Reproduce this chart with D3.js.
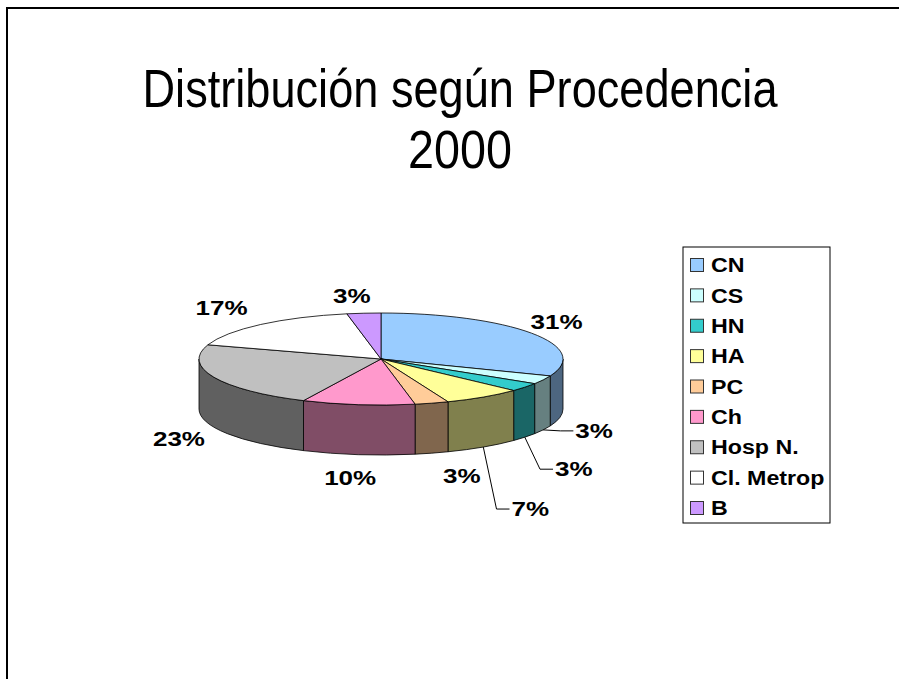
<!DOCTYPE html>
<html>
<head>
<meta charset="utf-8">
<script src="https://cdn.jsdelivr.net/npm/d3@7"></script>
<style>
  html, body { margin: 0; padding: 0; background: #fff; }
  svg { display: block; }
</style>
</head>
<body>
<div id="chart"></div>
<script>
// data
const categories = ["CN", "CS", "HN", "HA", "PC", "Ch", "Hosp N.", "Cl. Metrop", "B"];
const values = [31, 3, 3, 7, 3, 10, 23, 17, 3];
const colors = ["#99CCFF", "#CCFFFF", "#33CCCC", "#FFFF99", "#FFCC99", "#FF99CC", "#C0C0C0", "#FFFFFF", "#CC99FF"];
const titleLines = ["Distribución según Procedencia", "2000"];

// label nudges (px from the slice edge), and which labels get leader lines
const labelNudge = [[25, -11], [51, 1], [49, 32], [47, 62], [30, 23], [-8, 23], [-35, 12], [-39, -17], [-12, -17]];
const leaderFor = ["CS", "HN", "HA"];

const W = 899, H = 679;
const cx = 381, cy = 359;   // centre of top face
const rx = 182, ry = 46;    // ellipse radii
const depth = 50;           // thickness of the pie

const svg = d3.select("#chart").append("svg")
  .attr("width", W)
  .attr("height", H);

// frame (left and top only show in the picture)
svg.append("path")
  .attr("d", `M7,${H} L7,8 L${W + 2},8`)
  .attr("fill", "none")
  .attr("stroke", "#000")
  .attr("stroke-width", 2);

// title
titleLines.forEach((t, i) => {
  svg.append("text")
    .attr("x", 460)
    .attr("y", 107 + i * 61)
    .attr("text-anchor", "middle")
    .attr("font-family", "Liberation Sans, Arial, sans-serif")
    .attr("font-size", 53)
    .attr("textLength", i === 0 ? 635 : 104)
    .attr("lengthAdjust", "spacingAndGlyphs")
    .attr("fill", "#000")
    .text(t);
});

// excel draws the small bold text wider than arial, stretch it a bit
function stretch(sel, k) {
  const w = sel.node().getComputedTextLength();
  sel.attr("textLength", w * k).attr("lengthAdjust", "spacingAndGlyphs");
  return w * k;
}

const data = categories.map((c, i) => ({ name: c, value: values[i], color: colors[i] }));
const total = d3.sum(values);
const pct = d3.format(".0%");

const pie = d3.pie().sort(null).value(d => d.value);
const arcs = pie(data);

// point on the ellipse for angle a (0 = top, clockwise)
function pt(a, dy = 0) {
  return [cx + rx * Math.sin(a), cy - ry * Math.cos(a) + dy];
}

function darker(c) {
  const r = d3.rgb(c);
  return d3.rgb(r.r * 0.5, r.g * 0.5, r.b * 0.5).formatHex();
}

// side walls (only the front half, angles between PI/2 and 3PI/2)
const g = svg.append("g");
arcs.forEach(d => {
  const a0 = Math.max(d.startAngle, Math.PI / 2);
  const a1 = Math.min(d.endAngle, 3 * Math.PI / 2);
  if (a1 <= a0) return;
  const p0 = pt(a0), p1 = pt(a1), q1 = pt(a1, depth), q0 = pt(a0, depth);
  const path = `M${p0} A${rx},${ry} 0 0 1 ${p1} L${q1} A${rx},${ry} 0 0 0 ${q0} Z`;
  g.append("path")
    .attr("d", path)
    .attr("fill", darker(d.data.color))
    .attr("stroke", "#000")
    .attr("stroke-width", 0.8)
    .attr("stroke-linejoin", "round");
});

// top faces
arcs.forEach(d => {
  const p0 = pt(d.startAngle), p1 = pt(d.endAngle);
  const large = d.endAngle - d.startAngle > Math.PI ? 1 : 0;
  const path = `M${cx},${cy} L${p0} A${rx},${ry} 0 ${large} 1 ${p1} Z`;
  g.append("path")
    .attr("d", path)
    .attr("fill", d.data.color)
    .attr("stroke", "#000")
    .attr("stroke-width", 0.8)
    .attr("stroke-linejoin", "round");
});

// data labels
arcs.forEach((d, i) => {
  const mid = (d.startAngle + d.endAngle) / 2;
  const front = Math.cos(mid) < 0;
  const anchor = pt(mid, front ? depth : 0);
  const lx = anchor[0] + labelNudge[i][0];
  const ly = anchor[1] + labelNudge[i][1];

  const txt = svg.append("text")
    .attr("x", lx)
    .attr("y", ly)
    .attr("dy", "0.36em")
    .attr("text-anchor", "middle")
    .attr("font-family", "Liberation Sans, Arial, sans-serif")
    .attr("font-weight", "bold")
    .attr("font-size", 20)
    .attr("fill", "#000")
    .text(pct(d.data.value / total));
  const w = stretch(txt, 1.3);

  if (leaderFor.includes(d.data.name)) {
    const left = lx - w / 2;
    svg.append("polyline")
      .attr("points", [anchor, [left - 15, ly], [left - 2, ly]].map(p => p.join(",")).join(" "))
      .attr("fill", "none")
      .attr("stroke", "#000")
      .attr("stroke-width", 1);
  }
});

// legend
const lg = svg.append("g").attr("transform", "translate(683,247)");
lg.append("rect")
  .attr("width", 147)
  .attr("height", 276)
  .attr("fill", "#fff")
  .attr("stroke", "#000")
  .attr("stroke-width", 1);

const rowY = d3.scalePoint().domain(categories).range([18, 261]);
categories.forEach((c, i) => {
  const y = rowY(c);
  lg.append("rect")
    .attr("x", 7.5)
    .attr("y", y - 6.5)
    .attr("width", 13)
    .attr("height", 13)
    .attr("fill", colors[i])
    .attr("stroke", "#333")
    .attr("stroke-width", 1);
  const t = lg.append("text")
    .attr("x", 28)
    .attr("y", y)
    .attr("dy", "0.36em")
    .attr("font-family", "Liberation Sans, Arial, sans-serif")
    .attr("font-weight", "bold")
    .attr("font-size", 20)
    .attr("fill", "#000")
    .text(c);
  stretch(t, 1.16);
});
</script>
</body>
</html>
